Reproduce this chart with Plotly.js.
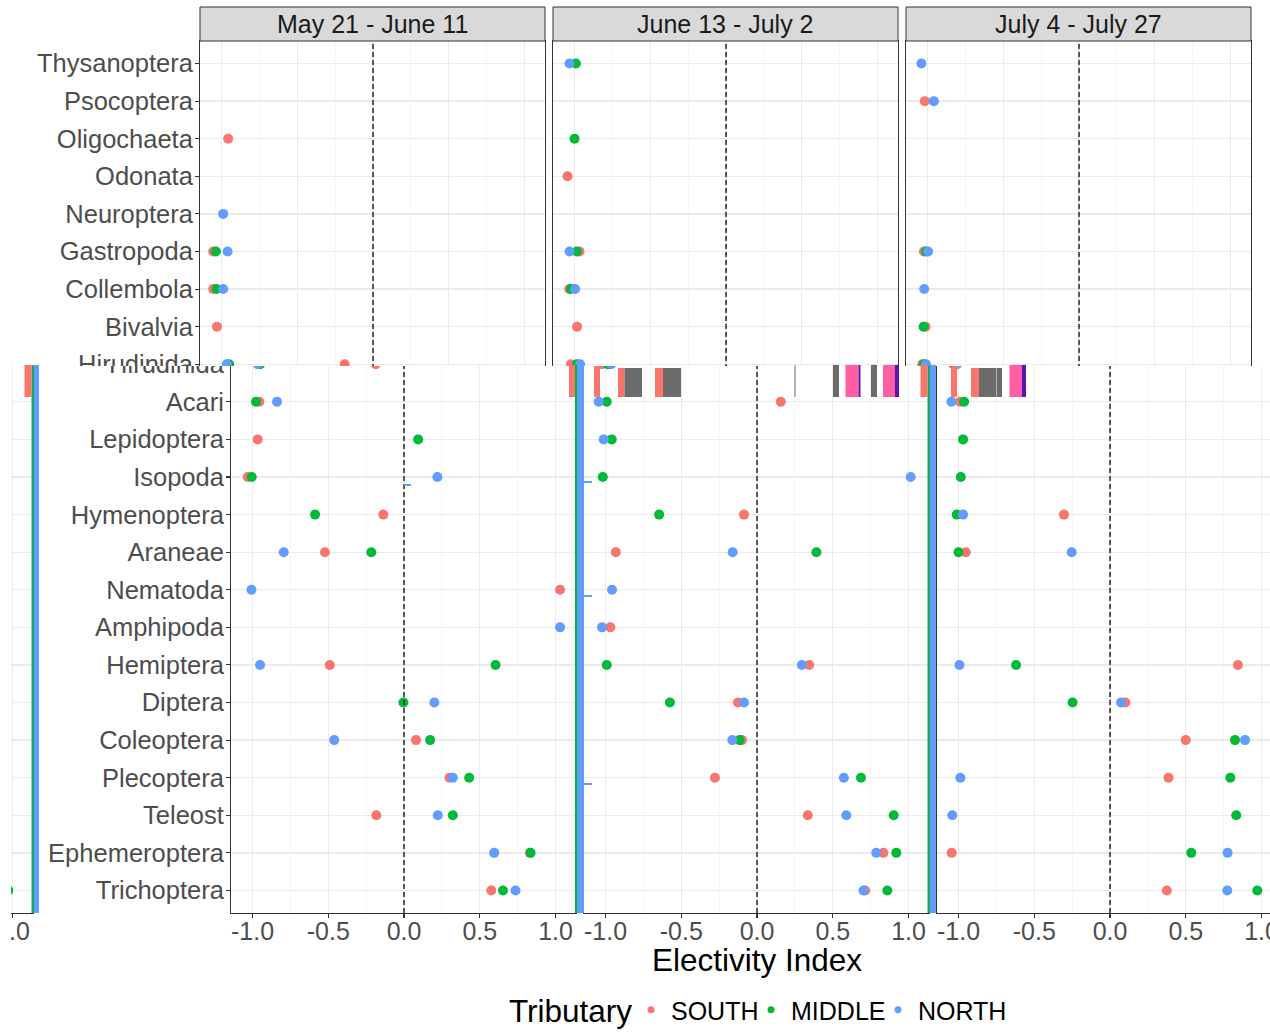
<!DOCTYPE html>
<html>
<head>
<meta charset="utf-8">
<script src="https://cdn.plot.ly/plotly-3.0.1.min.js"></script>
<style>
	html, body { margin: 0; padding: 0; background: #fff; }
	body { width: 1270px; height: 1032px; overflow: hidden; position: relative; }
	.copy { position: absolute; top: 0; width: 1270px; height: 1032px; }
	#top { left: 0; clip-path: inset(0 0 666px 0); }
	#bottom { left: 31px; clip-path: inset(366px 0 0 0); }
	#wrap { left: -1218px; clip-path: inset(366px 14px 0 1229px); }
	#glitch { left: 0; pointer-events: none; }
</style>
</head>
<body>
<div id="top" class="copy"></div>
<div id="bottom" class="copy"></div>
<div id="wrap" class="copy"></div>
<div id="glitch" class="copy"></div>
<script>

// taxa, top to bottom as they appear on the chart
const taxa = ["Thysanoptera", "Psocoptera", "Oligochaeta", "Odonata", "Neuroptera",
	"Gastropoda", "Collembola", "Bivalvia", "Hirudinida", "Acari", "Lepidoptera",
	"Isopoda", "Hymenoptera", "Araneae", "Nematoda", "Amphipoda", "Hemiptera",
	"Diptera", "Coleoptera", "Plecoptera", "Teleost", "Ephemeroptera", "Trichoptera"]

const periods = ["May 21 - June 11", "June 13 - July 2", "July 4 - July 27"]
const tributaries = ["SOUTH", "MIDDLE", "NORTH"]
const colors = ["#F8766D", "#00BA38", "#619CFF"]

const xTickVals = [-1, -0.5, 0, 0.5, 1]
const xTickText = ["-1.0", "-0.5", "0.0", "0.5", "1.0"]
const xMinorVals = [-0.75, -0.25, 0.25, 0.75]

// electivity index per taxon (same order as taxa), null = not present
const southMay = [null, null, -0.956, null, null, -1.055, -1.055, -1.03, -0.187, -0.955, -0.966, -1.032, -0.137, -0.522, 1.03, null, -0.49, null, 0.079, 0.30, -0.183, 0.831, 0.576]
const middleMay = [null, null, null, null, null, -1.037, -1.033, null, -0.95, -0.977, 0.093, -1.005, -0.587, -0.216, null, null, 0.604, -0.004, 0.172, 0.43, 0.322, 0.835, 0.653]
const northMay = [null, null, null, null, -0.989, -0.96, -0.989, null, -0.965, -0.838, null, 0.22, null, -0.794, -1.007, 1.03, -0.95, 0.20, -0.461, 0.322, 0.223, 0.595, 0.736]

const southJune = [null, null, null, -1.046, null, -0.967, -1.035, -0.983, -1.024, 0.157, null, null, -0.086, -0.932, null, -0.968, 0.344, -0.126, -0.099, -0.278, 0.335, 0.834, 0.714]
const middleJune = [-0.991, null, -1.0, null, null, -0.985, -1.024, null, -0.985, -0.992, -0.959, -1.018, -0.646, 0.392, null, null, -0.992, -0.575, -0.115, 0.686, 0.902, 0.919, 0.86]
const northJune = [-1.033, null, null, null, null, -1.033, -0.996, null, -0.963, -1.045, -1.012, 1.014, null, -0.161, -0.957, -1.023, 0.296, -0.086, -0.163, 0.573, 0.589, 0.787, 0.703]

const southJuly = [null, -1.018, null, null, null, -1.024, null, -1.013, -1.035, -0.99, null, null, -0.304, -0.952, null, null, 0.844, 0.101, 0.5, 0.386, null, -1.045, 0.375]
const middleJuly = [null, null, null, null, null, -1.01, null, -1.026, -1.025, -0.963, -0.97, -0.985, -1.012, -1.0, null, null, -0.62, -0.247, 0.825, 0.794, 0.833, 0.536, 0.972]
const northJuly = [-1.04, -0.958, null, null, null, -0.996, -1.022, null, -1.01, -1.047, null, null, -0.97, -0.253, null, null, -0.994, 0.073, 0.891, -0.988, -1.041, 0.776, 0.774]

const values = [
	[southMay, middleMay, northMay],
	[southJune, middleJune, northJune],
	[southJuly, middleJuly, northJuly]
]

// H| layout geometry (pixels)
const W = 1270, H = 1032
const panelLeft = [200, 553, 906]
const panelWidth = 345
const plotTop = 41, plotBottom = 913, stripTop = 7
const legendWidths = [75, 82, 88]
const FONT = "Liberation Sans, Arial, sans-serif"

function px(x) { return x / W }
function py(y) { return (H - y) / H }

function makeData() {
	const data = []
	periods.forEach((p, pi) => {
		tributaries.forEach((t, ti) => {
			const xs = [], ys = []
			values[pi][ti].forEach((v, k) => {
				if (v !== null) { xs.push(v); ys.push(taxa[k]) }
			})
			data.push({
				type: "scatter",
				mode: "markers",
				x: xs,
				y: ys,
				name: t,
				showlegend: false,
				xaxis: pi === 0 ? "x" : "x" + (pi + 1),
				yaxis: pi === 0 ? "y" : "y" + (pi + 1),
				marker: { color: colors[ti], size: 10, line: { width: 0 } },
				hoverinfo: "skip"
			})
		})
	})
	// legend keys (smaller symbols, like the ggplot key)
	tributaries.forEach((t, ti) => {
		data.push({
			type: "scatter", mode: "markers",
			x: [null], y: [null],
			name: t,
			legendwidth: legendWidths[ti],
			marker: { color: colors[ti], size: 7, line: { width: 0 } },
			hoverinfo: "skip"
		})
	})
	return data
}

function makeLayout() {
	const layout = {
		width: W,
		height: H,
		margin: { l: 0, r: 0, t: 0, b: 0, pad: 0, autoexpand: false },
		paper_bgcolor: "#ffffff",
		plot_bgcolor: "#ffffff",
		font: { family: FONT, color: "#4d4d4d", size: 25 },
		showlegend: true,
		legend: {
			orientation: "h",
			xref: "container",
			yref: "container",
			x: px(600),
			xanchor: "left",
			y: py(1010),
			yanchor: "middle",
			font: { family: FONT, size: 25, color: "#000000" },
			bgcolor: "rgba(0,0,0,0)",
			itemwidth: 30,
			tracegroupgap: 0
		},
		shapes: [],
		annotations: []
	}
	const cats = taxa.slice().reverse()
	panelLeft.forEach((left, i) => {
		const xa = i === 0 ? "xaxis" : "xaxis" + (i + 1)
		const ya = i === 0 ? "yaxis" : "yaxis" + (i + 1)
		const xr = i === 0 ? "x" : "x" + (i + 1)
		const yr = i === 0 ? "y" : "y" + (i + 1)
		layout[xa] = {
			domain: [px(left), px(left + panelWidth)],
			anchor: yr,
			range: [-1.142, 1.135],
			tickmode: "array",
			tickvals: xTickVals,
			ticktext: xTickText,
			ticks: "outside",
			ticklen: 4,
			tickwidth: 1.1,
			tickcolor: "#333333",
			ticklabelstandoff: -8,
			tickfont: { family: FONT, size: 25, color: "#4d4d4d" },
			showgrid: true,
			gridcolor: "#ebebeb",
			gridwidth: 1.3,
			minor: { tickmode: "array", tickvals: xMinorVals, showgrid: true, gridcolor: "#f2f2f2", gridwidth: 0.7, ticks: "" },
			zeroline: false,
			showline: true,
			mirror: true,
			linecolor: "#333333",
			linewidth: 1,
			automargin: false,
			fixedrange: true
		}
		layout[ya] = {
			domain: [py(plotBottom), py(plotTop)],
			anchor: xr,
			type: "category",
			categoryorder: "array",
			categoryarray: cats,
			range: [-0.6, cats.length - 0.4],
			showticklabels: i === 0,
			ticks: i === 0 ? "outside" : "",
			ticklen: 4,
			tickwidth: 1.1,
			tickcolor: "#333333",
			ticklabelstandoff: -3,
			tickfont: { family: FONT, size: 25.5, color: "#4d4d4d" },
			showgrid: true,
			gridcolor: "#ebebeb",
			gridwidth: 1.3,
			zeroline: false,
			showline: true,
			mirror: true,
			linecolor: "#333333",
			linewidth: 1,
			automargin: false,
			fixedrange: true
		}
		// dashed reference line at 0
		layout.shapes.push({
			type: "line", xref: xr, yref: yr + " domain",
			x0: 0, x1: 0, y0: 0, y1: 1,
			line: { color: "#1a1a1a", width: 1.4, dash: "5px,3px" },
			layer: "above"
		})
		// facet strip
		layout.shapes.push({
			type: "rect", xref: "paper", yref: "paper",
			x0: px(left), x1: px(left + panelWidth), y0: py(plotTop), y1: py(stripTop),
			fillcolor: "#d9d9d9",
			line: { color: "#333333", width: 1 }
		})
		layout.annotations.push({
			xref: "paper", yref: "paper",
			x: px(left + panelWidth / 2), y: py((plotTop + stripTop) / 2),
			text: periods[i], showarrow: false,
			xanchor: "center", yanchor: "middle",
			font: { family: FONT, size: 25, color: "#1a1a1a" }
		})
	})
	layout.annotations.push({
		xref: "paper", yref: "paper",
		x: px(panelLeft[1] + panelWidth / 2), y: py(960),
		text: "Electivity Index", showarrow: false,
		xanchor: "center", yanchor: "middle",
		font: { family: FONT, size: 31.5, color: "#000000" }
	})
	layout.annotations.push({
		xref: "paper", yref: "paper",
		x: px(476), y: py(1011),
		text: "Tributary", showarrow: false,
		xanchor: "left", yanchor: "middle",
		font: { family: FONT, size: 31.5, color: "#000000" }
	})
	return layout
}

const config = { staticPlot: true, displayModeBar: false }
Plotly.newPlot("top", makeData(), makeLayout(), config)
Plotly.newPlot("bottom", makeData(), makeLayout(), config)
Plotly.newPlot("wrap", makeData(), makeLayout(), config)

// H| render glitch (strips and blocks where the image copies were joined)
const RED = "#F8766D", GRN = "#00BA38", BLU = "#619CFF", GRY = "#6b6b6b", PNK = "#FF5FA2", PUR = "#5a14b4"
const glitch = [
	[31.5, 33.5, 365, 913, GRN], [33.5, 39, 365, 913, BLU],
	[575, 577, 365, 913, GRN], [577, 584, 365, 913, BLU],
	[927.5, 929.5, 365, 913, GRN], [929.5, 936, 365, 913, BLU],
	[24.5, 31.5, 365, 397, RED], [569, 575, 365, 397, RED], [920.5, 927.5, 365, 397, RED],
	[594, 600, 366, 397, RED], [618, 624.5, 368, 397, RED], [624.5, 642, 368, 397, GRY],
	[655, 663, 368, 397, RED], [663, 681, 368, 397, GRY], [794.5, 795.5, 365, 397, GRY],
	[833, 839, 365, 397, GRY], [845.5, 858.5, 365, 397, PNK], [858.5, 860.5, 365, 397, PUR],
	[871, 877, 365, 397, GRY], [883, 895, 365, 397, PNK], [895, 899, 365, 397, PUR],
	[951, 957, 366, 397, RED], [971, 979, 368, 397, RED], [979, 996.5, 368, 397, GRY],
	[997, 1002, 368, 397, GRY], [1009.5, 1022, 365, 397, PNK], [1022, 1026, 365, 397, PUR],
	[584, 592, 481, 483, BLU], [584, 592, 595, 597, BLU], [584, 592, 783, 785, BLU], [404, 411, 484, 486, BLU]
]

Plotly.newPlot("glitch", [], {
	width: W, height: H,
	margin: { l: 0, r: 0, t: 0, b: 0, pad: 0 },
	paper_bgcolor: "rgba(0,0,0,0)",
	plot_bgcolor: "rgba(0,0,0,0)",
	showlegend: false,
	xaxis: { range: [0, W], visible: false, fixedrange: true },
	yaxis: { range: [H, 0], visible: false, fixedrange: true },
	shapes: glitch.map(g => ({
		type: "rect", xref: "x", yref: "y",
		x0: g[0], x1: g[1], y0: g[2], y1: g[3],
		fillcolor: g[4], line: { width: 0 }
	}))
}, config)

</script>
</body>
</html>
